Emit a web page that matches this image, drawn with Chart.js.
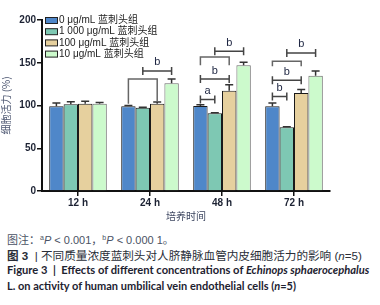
<!DOCTYPE html>
<html>
<head>
<meta charset="utf-8">
<script src="https://cdn.jsdelivr.net/npm/chart.js"></script>
<style>
  body { margin: 0; background: #fff; width: 380px; height: 305px; overflow: hidden; position: relative;
         font-family: "Liberation Sans", "Noto Sans CJK SC", sans-serif; }
  #wrap { position: absolute; left: 0; top: 0; width: 380px; height: 222px; }
  .cap { position: absolute; left: 7px; white-space: nowrap; font-size: 11px; color: #2a2e38; }
  .cap sup { font-size: 7px; vertical-align: 4px; }
  .en { font-family: "Lato", sans-serif; font-weight: bold; font-size: 10.5px; color: #1d2230; }
</style>
</head>
<body>
<div id="wrap"><canvas id="myChart"></canvas></div>
<div class="cap" style="top:231px;color:#4a5264">图注：<sup>a</sup><i>P</i> &lt; 0.001，<sup>b</sup><i>P</i> &lt; 0.000 1。</div>
<div class="cap" id="zh" style="top:247px"><b>图 3</b> &nbsp;|&nbsp;不同质量浓度蓝刺头对人脐静脉血管内皮细胞活力的影响 (<i>n</i>=5)</div>
<div class="cap en" id="en1" style="top:263px">Figure 3 &nbsp;|&nbsp; Effects of different concentrations of <i>Echinops sphaerocephalus</i></div>
<div class="cap en" id="en2" style="top:279px">L. on activity of human umbilical vein endothelial cells (<i>n</i>=5)</div>
<script>
const times = ['12 h', '24 h', '48 h', '72 h'];
const groups = ['0 μg/mL 蓝刺头组', '1 000 μg/mL 蓝刺头组', '100 μg/mL 蓝刺头组', '10 μg/mL 蓝刺头组'];
const yTicks = [0, 50, 100, 150, 200];

// cell viability (%) per group
const dose0    = [99, 99, 99.5, 99];
const dose1000 = [101.5, 97.5, 91, 74.7];
const dose100  = [102, 102, 117.3, 114.6];
const dose10   = [102, 126, 147, 134.9];

// upper error (SD)
const err0    = [4, 1, 1.5, 4];
const err1000 = [3, 0.5, 0.5, 0.5];
const err100  = [3, 2, 7, 4];
const err10   = [1.5, 5, 3.5, 5.5];

// significance brackets: time index, bar from, bar to, height, label
const sigTime  = [1, 2, 2, 2, 3, 3, 3];
const sigFrom  = [1, 0, 0, 1, 0, 0, 1];
const sigTo    = [3, 1, 2, 3, 1, 2, 3];
const sigY     = [140.4, 107, 131, 163.4, 110.6, 129.4, 161.5];
const sigLabel = ['b', 'a', 'b', 'b', 'b', 'b', 'b'];

// grouping brackets over bars 0..2: time index, height, left leg end, right leg end
const grpTime  = [1, 2, 3];
const grpY     = [131, 156.8, 151.7];
const grpLeft  = [102, 147, 145.8];
const grpRight = [104.7, 147, 145.8];

const colors  = ['#4f87c9', '#7ec8b3', '#e6d09e', '#ccfacc'];
const borders = ['#1a1a1a', '#1a1a1a', '#1a1a1a', '#6a6a6a'];
const values  = [dose0, dose1000, dose100, dose10];
const errors  = [err0, err1000, err100, err10];

// stretch caption lines to the widths seen in the figure
function fitWidth(id, target) {
  const el = document.getElementById(id);
  const fs = parseFloat(getComputedStyle(el).fontSize);
  el.style.fontSize = (fs * target / el.getBoundingClientRect().width) + 'px';
}
fitWidth('zh', 355);
fitWidth('en1', 363);
fitWidth('en2', 289);

const annotate = {
  id: 'annotate',
  afterDatasetsDraw(chart) {
    const c = chart.ctx, y = chart.scales.y, area = chart.chartArea;
    const bx = (d, i) => chart.getDatasetMeta(d).data[i].x;
    c.save();
    // error bars
    c.strokeStyle = '#333'; c.lineWidth = 1.5;
    values.forEach((vals, d) => {
      vals.forEach((v, i) => {
        const x = bx(d, i), y0 = y.getPixelForValue(v), y1 = y.getPixelForValue(v + errors[d][i]);
        c.beginPath();
        c.moveTo(x, y0); c.lineTo(x, y1);
        c.moveTo(x - 4, y1); c.lineTo(x + 4, y1);
        c.stroke();
      });
    });
    // grouping brackets
    c.strokeStyle = '#666'; c.lineWidth = 1.5;
    grpTime.forEach((t, k) => {
      const x0 = bx(0, t), x1 = bx(2, t), yy = y.getPixelForValue(grpY[k]);
      c.beginPath();
      c.moveTo(x0, y.getPixelForValue(grpLeft[k])); c.lineTo(x0, yy);
      c.lineTo(x1, yy); c.lineTo(x1, y.getPixelForValue(grpRight[k]));
      c.stroke();
    });
    // significance brackets
    c.strokeStyle = '#444'; c.lineWidth = 1.5;
    c.fillStyle = '#1c2440';
    c.font = '11px "Liberation Sans", sans-serif';
    c.textAlign = 'center'; c.textBaseline = 'bottom';
    sigTime.forEach((t, k) => {
      const x0 = bx(sigFrom[k], t), x1 = bx(sigTo[k], t), yy = y.getPixelForValue(sigY[k]);
      c.beginPath();
      c.moveTo(x0, yy); c.lineTo(x1, yy);
      c.moveTo(x0, yy - 4); c.lineTo(x0, yy + 4);
      c.moveTo(x1, yy - 4); c.lineTo(x1, yy + 4);
      c.stroke();
      c.fillText(sigLabel[k], (x0 + x1) / 2, yy - 3);
    });
    // legend
    c.font = '10px "Liberation Sans", "Noto Sans CJK SC", sans-serif';
    c.textAlign = 'left'; c.textBaseline = 'middle';
    c.lineWidth = 1;
    groups.forEach((g, i) => {
      const cy = area.top + 0.5 + i * 11.2;
      c.fillStyle = colors[i];
      c.fillRect(area.left + 3.5, cy - 3, 12, 6);
      c.strokeStyle = '#222';
      c.strokeRect(area.left + 3.5, cy - 3, 12, 6);
      c.fillStyle = '#222';
      c.fillText(g, area.left + 17, cy);
    });
    c.restore();
  }
};

const ctx = document.getElementById('myChart');
new Chart(ctx, {
  type: 'bar',
  data: {
    labels: times,
    datasets: groups.map((g, i) => ({
      label: g,
      data: values[i],
      backgroundColor: colors[i],
      borderColor: borders[i],
      borderWidth: 1,
      categoryPercentage: 0.8,
      barPercentage: 1.0
    }))
  },
  options: {
    responsive: true,
    maintainAspectRatio: false,
    animation: false,
    layout: { padding: { top: 20, right: 50, left: 0, bottom: 0 } },
    plugins: { legend: { display: false }, tooltip: { enabled: false } },
    scales: {
      x: {
        afterFit: s => { s.height = 31; },
        grid: { offset: false, drawOnChartArea: false, drawTicks: true, tickLength: 5, color: '#111', lineWidth: 1.5 },
        border: { display: true, color: '#111', width: 2 },
        ticks: { color: '#1c2233', padding: 1, font: { size: 10, weight: 'bold', family: '"Liberation Sans", sans-serif' } },
        title: { display: true, text: '培养时间', color: '#3d4660', padding: 0,
                 font: { size: 10, family: '"Noto Sans CJK SC", sans-serif' } }
      },
      y: {
        min: 0, max: 200,
        afterFit: s => { s.width = 42; },
        afterBuildTicks: s => { s.ticks = yTicks.map(v => ({ value: v })); },
        grid: { drawOnChartArea: false, drawTicks: true, tickLength: 5, color: '#111', lineWidth: 1.5 },
        border: { display: true, color: '#111', width: 2 },
        ticks: { color: '#1c2233', padding: 1, font: { size: 10, weight: 'bold', family: '"Liberation Sans", sans-serif' } },
        title: { display: true, text: '细胞活力 (%)', color: '#4b5570', padding: 0,
                 font: { size: 10, family: '"Noto Sans CJK SC", sans-serif' } }
      }
    }
  },
  plugins: [annotate]
});
</script>
</body>
</html>
